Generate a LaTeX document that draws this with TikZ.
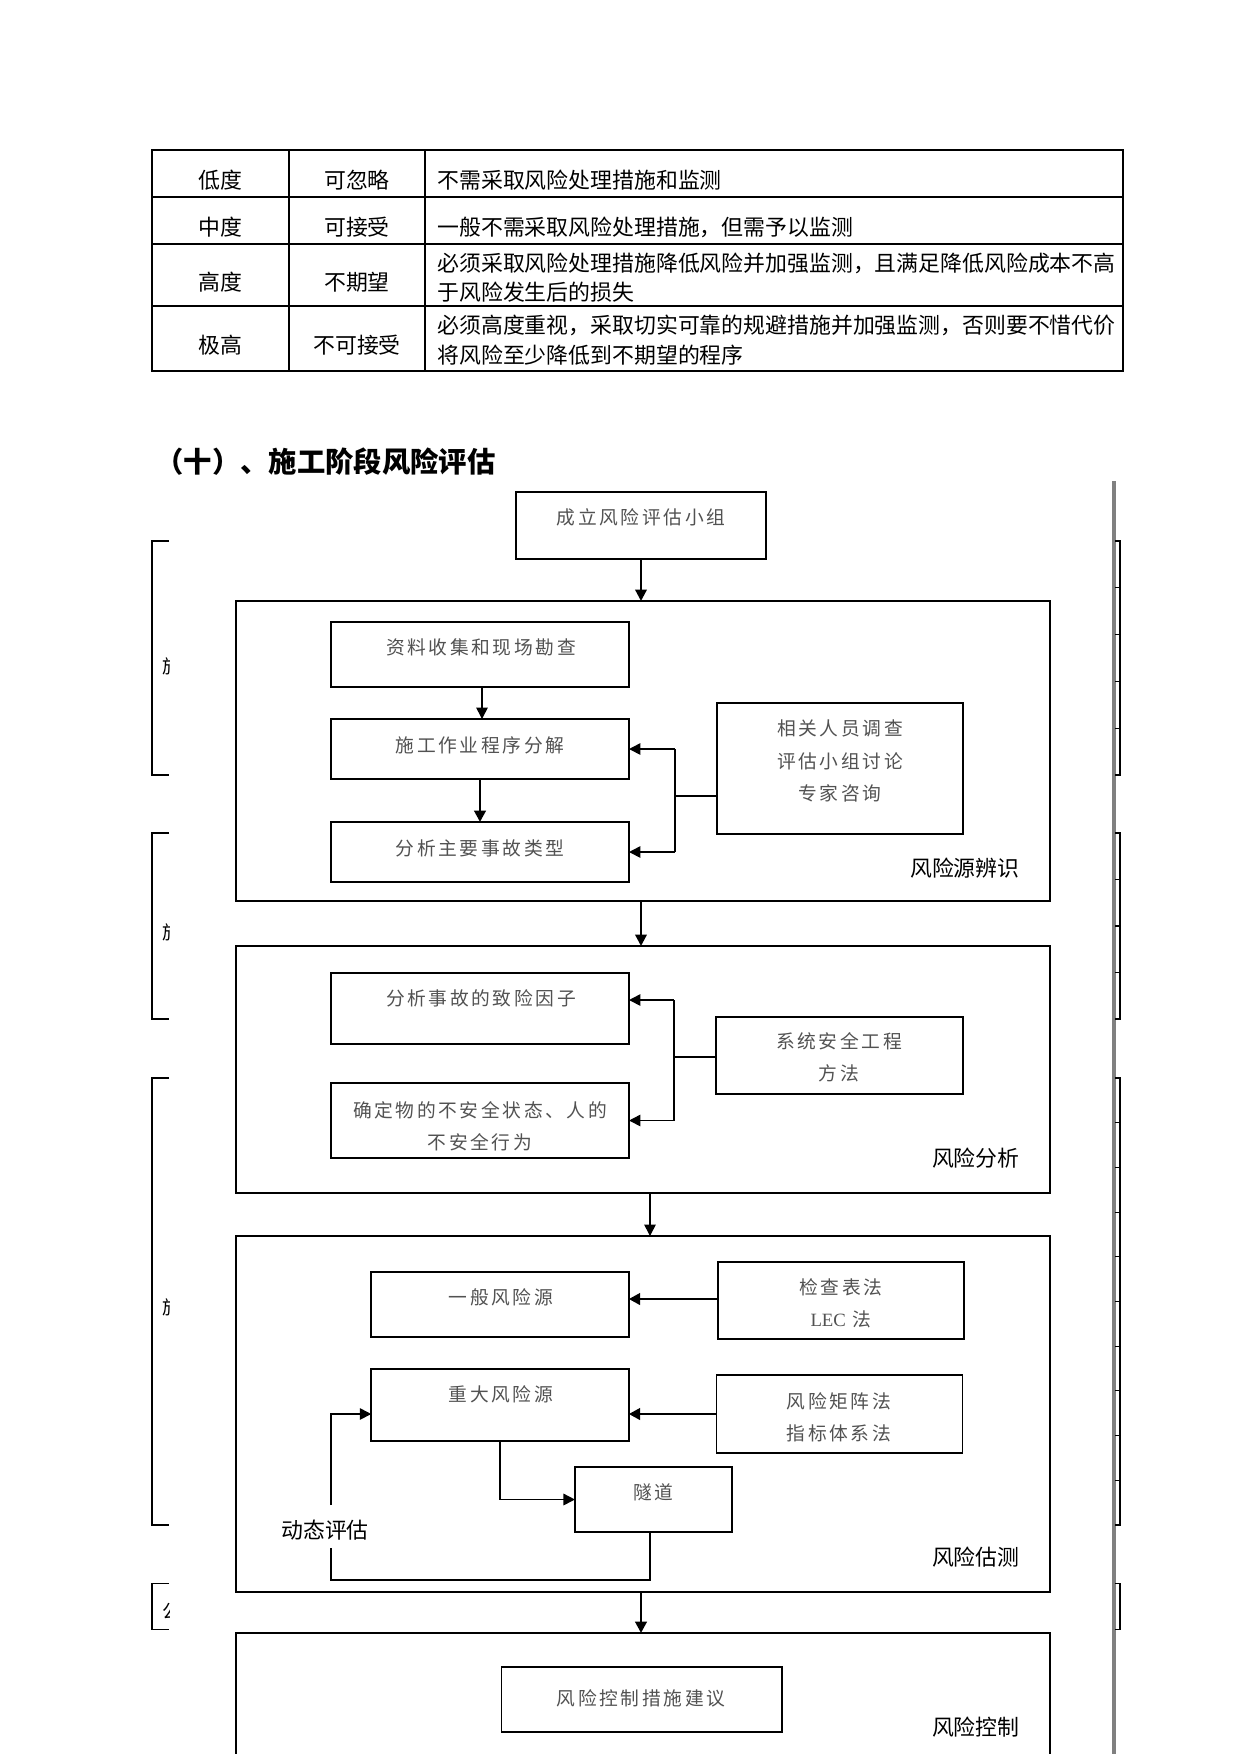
\documentclass[tikz,border=0pt]{standalone}
\usepackage{fontspec}
\setmainfont{Noto Sans CJK SC}
\newfontfamily\boxf[LetterSpace=14]{Noto Sans CJK SC}
\newfontfamily\serf{Liberation Serif}
\usetikzlibrary{arrows.meta,calc}
\newcommand\pxl[1]{#1*0.48pt}
\tikzset{
  tbl/.style={line width=0.5pt},
  ttext/.style={inner sep=0pt, font=\fontsize{10.5pt}{12pt}\selectfont},
  bigbox/.style={draw, line width=1pt, inner sep=0pt, outer sep=0pt},
  inbox/.style={draw, line width=0.95pt, inner sep=0pt, outer sep=0pt},
  sidebox/.style={draw, line width=0.75pt, inner sep=0pt, outer sep=0pt},
  btext/.style={inner sep=0pt, align=center, text=black!68, font=\boxf\fontsize{9pt}{15.5pt}\selectfont},
  lbl/.style={inner sep=0pt, anchor=east, font=\fontsize{10.5pt}{12pt}\selectfont},
  arr/.style={-{Triangle[length=5.5pt,width=5.5pt]}, line width=1.1pt},
  arrthick/.style={-{Triangle[length=5.5pt,width=5.5pt]}, line width=1.4pt},
  arrthin/.style={-{Triangle[length=5.5pt,width=5.5pt]}, line width=0.8pt},
  conn/.style={line width=0.8pt},
  connthin/.style={line width=0.5pt},
  brk/.style={line width=0.5pt},
}
\begin{document}
\begin{tikzpicture}[x=0.48pt, y=-0.48pt]
\useasboundingbox (0,0) rectangle (1241,1754);
\clip (0,0) rectangle (1241,1754);
\fill[white] (0,0) rectangle (1241,1754);

% ---------- table ----------
\draw[tbl] (152,150) rectangle (1123,371);
\foreach \yy in {197,244,306} \draw[tbl] (152,\yy) -- (1123,\yy);
\draw[tbl] (289,150) -- (289,371);
\draw[tbl] (425,150) -- (425,371);
\node[ttext] (t11) at (220,180) {低度};
\node[ttext] (t12) at (357,180) {可忽略};
\node[ttext, anchor=west] (t13) at (437,180) {不需采取风险处理措施和监测};
\node[ttext] (t21) at (220,227) {中度};
\node[ttext] (t22) at (357,227) {可接受};
\node[ttext, anchor=west] (t23) at (437,227) {一般不需采取风险处理措施，但需予以监测};
\node[ttext] (t31) at (220,282) {高度};
\node[ttext] (t32) at (357,282) {不期望};
\node[ttext, anchor=west] (t33a) at (437,263) {必须采取风险处理措施降低风险并加强监测，且满足降低风险成本不高};
\node[ttext, anchor=west] (t33b) at (437,292) {于风险发生后的损失};
\node[ttext] (t41) at (220,345) {极高};
\node[ttext] (t42) at (357,345) {不可接受};
\node[ttext, anchor=west] (t43a) at (437,325) {必须高度重视，采取切实可靠的规避措施并加强监测，否则要不惜代价};
\node[ttext, anchor=west] (t43b) at (437,355) {将风险至少降低到不期望的程序};

% ---------- heading ----------
\node[anchor=west, inner sep=0pt, font=\fontsize{13.6pt}{16pt}\selectfont\bfseries] (head) at (155,462) {（十）、施工阶段风险评估};

% ---------- side remnants ----------
\draw[line width=1.9pt, color={rgb,255:red,128;green,128;blue,128}] (1114,481) -- (1114,1770);
\foreach \ya/\yb/\n in {541/775/5, 833/1019/4, 1078/1525/10, 1583/1629/1}{
  \draw[brk] (169,\ya) -- (152,\ya) -- (152,\yb) -- (169,\yb);
  \draw[brk] (1115,\ya) -- (1120,\ya) -- (1120,\yb) -- (1115,\yb);
  \foreach \k in {1,...,\n}{
    \draw[brk] (1115,{\ya+(\yb-\ya)*\k/\n}) -- (1120,{\ya+(\yb-\ya)*\k/\n});
  }
}
\begin{scope}
\clip (150,400) rectangle (169.5,1700);
\node[ttext, anchor=west, font=\fontsize{9pt}{10pt}\selectfont] (g1) at (162,666) {施};
\node[ttext, anchor=west, font=\fontsize{9pt}{10pt}\selectfont] (g2) at (162,932) {施};
\node[ttext, anchor=west, font=\fontsize{9pt}{10pt}\selectfont] (g3) at (162,1307) {施};
\node[ttext, anchor=west, font=\fontsize{9pt}{10pt}\selectfont] (g4) at (162,1611) {公};
\end{scope}

% ---------- flowchart boxes ----------
\node[inbox, minimum width=\pxl{250}, minimum height=\pxl{67}] (top) at (641,525.5) {};
\node[btext] (topt) at (641,517) {成立风险评估小组};

% Stage 1
\node[bigbox, minimum width=\pxl{814}, minimum height=\pxl{300}] (B1) at (643,751) {};
\node[inbox, minimum width=\pxl{298}, minimum height=\pxl{65}] (z1) at (480,654.5) {};
\node[btext] (z1t) at (481,647) {资料收集和现场勘查};
\node[inbox, minimum width=\pxl{298}, minimum height=\pxl{60}] (z2) at (480,749) {};
\node[btext] (z2t) at (480,745) {施工作业程序分解};
\node[inbox, minimum width=\pxl{298}, minimum height=\pxl{60}] (z3) at (480,852) {};
\node[btext] (z3t) at (480,848) {分析主要事故类型};
\node[sidebox, minimum width=\pxl{246}, minimum height=\pxl{131}] (r1) at (840,768.5) {};
\node[btext] (r1t) at (840,761) {相关人员调查\\评估小组讨论\\专家咨询};
\node[lbl] (L1) at (1020,868) {风险源辨识};

% Stage 2
\node[bigbox, minimum width=\pxl{814}, minimum height=\pxl{247}] (B2) at (643,1069.5) {};
\node[inbox, minimum width=\pxl{298}, minimum height=\pxl{71}] (a1) at (480,1008.5) {};
\node[btext] (a1t) at (481,998) {分析事故的致险因子};
\node[inbox, minimum width=\pxl{298}, minimum height=\pxl{75}] (a2) at (480,1120.5) {};
\node[btext] (a2t) at (480,1126) {确定物的不安全状态、人的\\不安全行为};
\node[sidebox, minimum width=\pxl{247}, minimum height=\pxl{77}] (r2) at (839.5,1055.5) {};
\node[btext] (r2t) at (839,1057.5) {系统安全工程\\方法};
\node[lbl] (L2) at (1020,1158) {风险分析};

% Stage 3
\node[bigbox, minimum width=\pxl{814}, minimum height=\pxl{356}] (B3) at (643,1414) {};
\node[inbox, minimum width=\pxl{257.5}, minimum height=\pxl{65}] (e1) at (500,1304.5) {};
\node[btext] (e1t) at (501,1297) {一般风险源};
\node[sidebox, minimum width=\pxl{245.6}, minimum height=\pxl{77}] (r3) at (841,1300.5) {};
\node[btext] (r3t) at (841,1303.5) {检查表法\\{\serf LEC} 法};
\node[inbox, minimum width=\pxl{257.5}, minimum height=\pxl{72}] (e2) at (500,1405) {};
\node[btext] (e2t) at (501,1394) {重大风险源};
\node[sidebox, minimum width=\pxl{246}, minimum height=\pxl{78}] (r4) at (839.6,1414) {};
\node[btext] (r4t) at (839,1417.5) {风险矩阵法\\指标体系法};
\node[inbox, minimum width=\pxl{157.5}, minimum height=\pxl{65}] (tn) at (653.7,1499.5) {};
\node[btext] (tnt) at (653.5,1492) {隧道};
\node[inner sep=0pt, font=\fontsize{10.5pt}{12pt}\selectfont] (dyn) at (325,1530) {动态评估};
\node[lbl] (L3) at (1020,1557) {风险估测};

% Stage 4
\node[bigbox, minimum width=\pxl{814}, minimum height=\pxl{200}] (B4) at (643,1733) {};
\node[sidebox, minimum width=\pxl{280.4}, minimum height=\pxl{65}] (c1) at (641.8,1699.5) {};
\node[btext] (c1t) at (641,1698) {风险控制措施建议};
\node[lbl] (L4) at (1020,1727) {风险控制};

% ---------- connectors ----------
\draw[arr] (top.south) -- (top.south |- B1.north);
\draw[arrthin] ($(z1.south)+(2,0)$) -- ($(z2.north)+(2,0)$);
\draw[arrthick] (z2.south) -- (z3.north);
\coordinate (j1) at (675,796);
\draw[connthin] (r1.west |- j1) -- (j1);
\draw[arrthin] (j1 |- z2.east) -- (z2.east);
\draw[conn] (j1 |- z2.east) -- (j1 |- z3.east);
\draw[arrthin] (j1 |- z3.east) -- (z3.east);

\draw[arr] (top.south |- B1.south) -- (top.south |- B2.north);
\coordinate (j2) at (674,1057);
\draw[connthin] (r2.west |- j2) -- (j2);
\draw[arrthin] (j2 |- 0,1000) -- (a1.east |- 0,1000);
\draw[conn] (j2 |- 0,1000) -- (j2 |- a2.east);
\draw[arrthin] (j2 |- a2.east) -- (a2.east);

\draw[arrthin] ($(B2.south)+(7,0)$) -- ($(B2.south |- B3.north)+(7,0)$);
\draw[arrthick] (r3.west |- 0,1299) -- (e1.east |- 0,1299);
\draw[arrthick] (r4.west) -- (r4.west -| e2.east);
\draw[connthin] (e2.south) -- (e2.south |- tn.west);
\draw[arrthin] (e2.south |- tn.west) -- (tn.west);
\coordinate (lp) at (331,1580);
\coordinate (gapA) at (331,1548);
\coordinate (gapB) at (331,1505);
\draw[conn] ($(tn.south)+(-3.5,0)$) |- (lp) -- (gapA);
\draw[arrthin] (gapB) |- (e2.west |- 0,1414);
\draw[arrthick] (top.south |- B3.south) -- (top.south |- B4.north);
\end{tikzpicture}
\end{document}
